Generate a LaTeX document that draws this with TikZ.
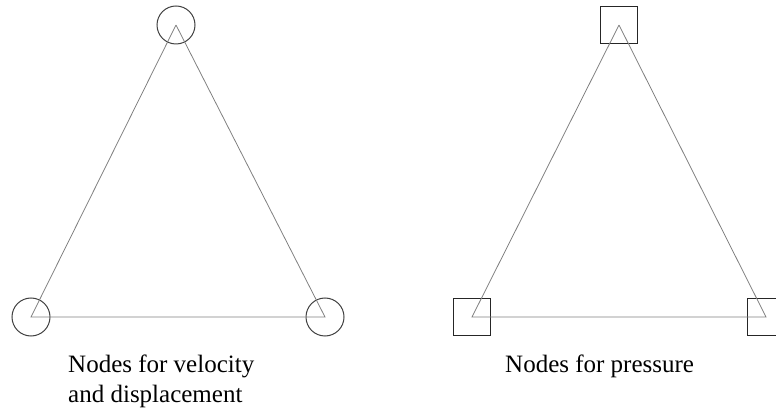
\documentclass[tikz,border=0pt]{standalone}
\usepackage{fontspec}
\setmainfont{Liberation Serif}
\usepackage{tikz}

\begin{document}
\begin{tikzpicture}[x=1pt, y=-1pt]
    % Define the styles for the nodes
    \tikzstyle{vnode} = [circle, draw=black!75, line width=1pt, minimum size=38pt, inner sep=0pt]
    \tikzstyle{pnode} = [rectangle, draw=black!85, line width=1pt, minimum size=37pt, inner sep=0pt]
    \tikzstyle{line} = [draw, black!50, line width=0.8pt]
    \tikzstyle{caption} = [font=\fontsize{25}{29}\selectfont, align=left, inner sep=0pt]
    \useasboundingbox (0,0) rectangle (776,411);

    % Element with velocity and displacement nodes
    \node [vnode] (vtop) at (176,25) {};
    \node [vnode] (vleft) at (31,317) {};
    \node [vnode] (vright) at (325,317) {};

    % Element with pressure nodes
    \node [pnode] (ptop) at (619,25) {};
    \node [pnode] (pleft) at (472,317) {};
    \node [pnode] (pright) at (766,317) {};

    % Connect the nodes with the element edges
    \path [line] (vtop.center) -- (vleft.center) -- (vright.center) -- (vtop.center);
    \path [line] (ptop.center) -- (pleft.center) -- (pright.center) -- (ptop.center);

    % Captions (base of a two-line node is its last line)
    \node [caption, anchor=base west] (vcap) at (68,402) {Nodes for velocity\\and displacement};
    \node [caption, anchor=base west] (pcap) at (505,373) {Nodes for pressure};
\end{tikzpicture}
\end{document}
